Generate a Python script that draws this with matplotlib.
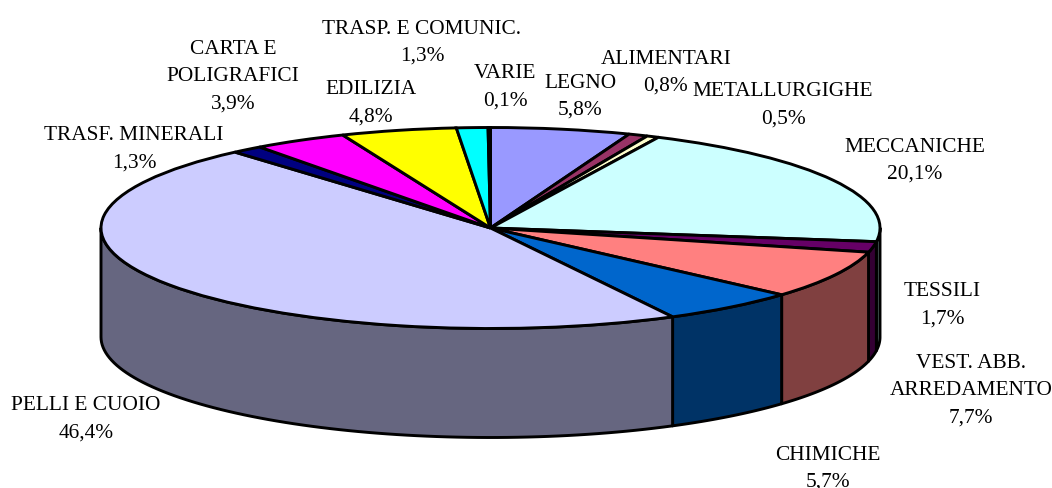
"""Torta 3D: ripartizione per settore (percentuali)."""

import matplotlib
matplotlib.use("Agg")
import matplotlib.pyplot as plt
import numpy as np

CATEGORIES = [
    "LEGNO", "ALIMENTARI", "METALLURGIGHE", "MECCANICHE", "TESSILI",
    "VEST. ABB.\nARREDAMENTO", "CHIMICHE", "PELLI E CUOIO", "TRASF. MINERALI",
    "CARTA E\nPOLIGRAFICI", "EDILIZIA", "TRASP. E COMUNIC.", "VARIE",
]
VALUES = [5.8, 0.8, 0.5, 20.1, 1.7, 7.7, 5.7, 46.4, 1.3, 3.9, 4.8, 1.3, 0.1]
COLORS = [
    "#9999FF", "#993366", "#FFFFCC", "#CCFFFF", "#660066", "#FF8080", "#0066CC",
    "#CCCCFF", "#000080", "#FF00FF", "#FFFF00", "#00FFFF", "#800080",
]

# centro del testo (prima riga) in pixel
LABEL_POS = [
    (580, 83), (666, 59), (783, 92), (915, 147), (942, 292), (971, 363), (828, 455),
    (86, 406), (134, 136), (233, 49), (371, 90), (422, 29), (505, 74),
]

W, H = 1052, 488
CX, CY = 490.5, 228
RX, RY = 389.5, 100.5
DEPTH = 109 / RY
LW = 2.1


def darker(color):
    r, g, b = matplotlib.colors.to_rgb(color)
    return (r * 0.5, g * 0.5, b * 0.5)


def main():
    plt.rcParams["font.family"] = ["Liberation Serif", "DejaVu Serif"]

    fig = plt.figure(figsize=(W / 100, H / 100), dpi=100)
    ax = fig.add_axes([0, 0, 1, 1])

    # pareti laterali: solo la parte anteriore (90-270 gradi)
    vals = np.array(VALUES, dtype=float)
    edges = np.concatenate([[0], np.cumsum(vals)]) / vals.sum() * 360
    for t0, t1, color in zip(edges[:-1], edges[1:], COLORS):
        a, b = max(t0, 90), min(t1, 270)
        if a >= b:
            continue
        t = np.radians(np.linspace(a, b, 80))
        xs = np.sin(t)
        ys = np.cos(t)
        ax.fill(
            np.concatenate([xs, xs[::-1]]),
            np.concatenate([ys, ys[::-1] - DEPTH]),
            facecolor=darker(color),
            edgecolor="black",
            linewidth=LW,
            joinstyle="round",
        )

    ax.pie(
        vals,
        colors=COLORS,
        startangle=90,
        counterclock=False,
        normalize=True,
        wedgeprops={"edgecolor": "black", "linewidth": LW},
    )

    ax.set_aspect("auto")
    ax.set_xlim(-CX / RX, (W - CX) / RX)
    ax.set_ylim((CY - H) / RY, CY / RY)
    ax.axis("off")

    for name, value, (px, py) in zip(CATEGORIES, VALUES, LABEL_POS):
        pct = f"{value:.1f}%".replace(".", ",")
        lines = name.split("\n") + [pct]
        for i, line in enumerate(lines):
            fig.text(
                px / W,
                1 - (py + i * 27.5) / H,
                line,
                ha="center",
                va="center",
                fontsize=15.4,
                color="black",
            )

    fig.savefig("out.png", dpi=100)


if __name__ == "__main__":
    main()
